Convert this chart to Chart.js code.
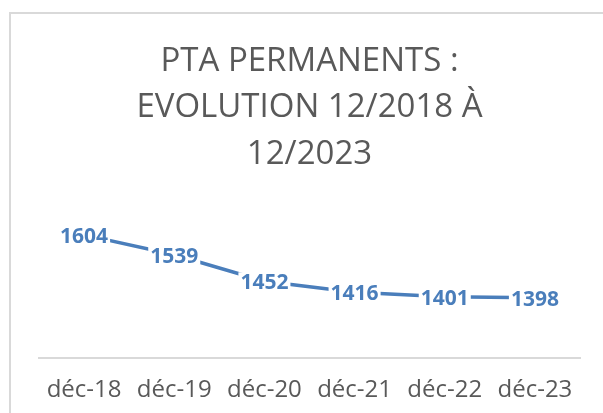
<!DOCTYPE html>
<html>
<head>
<meta charset="utf-8">
<script src="https://cdn.jsdelivr.net/npm/chart.js@4"></script>
<style>
  html, body { margin: 0; padding: 0; background: #fff; overflow: hidden; }
  #wrap { position: relative; width: 603px; height: 413px; overflow: hidden; }
  #frame { position: absolute; left: 9px; top: 12px; width: 700px; height: 500px; border: 2px solid #d9d9d9; box-sizing: border-box; }
  #myChart { position: absolute; left: 0; top: 0; }
</style>
</head>
<body>
<div id="wrap">
  <div id="frame"></div>
  <canvas id="myChart" width="603" height="433"></canvas>
</div>
<script>
  const labels = ['déc-18', 'déc-19', 'déc-20', 'déc-21', 'déc-22', 'déc-23'];
  const effectifs = [1604, 1539, 1452, 1416, 1401, 1398];
  const titleLines = ['PTA PERMANENTS :', 'EVOLUTION 12/2018 À', '12/2023'];

  const blue = '#4a7ebb';
  const grey = '#595959';

  // étiquettes de valeur posées sur la ligne, fond blanc
  const valueLabels = {
    id: 'valueLabels',
    afterDatasetsDraw(chart) {
      const ctx = chart.ctx;
      const meta = chart.getDatasetMeta(0);
      ctx.save();
      ctx.font = 'bold 21px "Open Sans"';
      ctx.textAlign = 'center';
      ctx.textBaseline = 'middle';
      meta.data.forEach(function(pt, i) {
        const txt = String(chart.data.datasets[0].data[i]);
        const w = ctx.measureText(txt).width;
        ctx.fillStyle = '#fff';
        ctx.fillRect(pt.x - w / 2 - 2, pt.y - 9, w + 4, 19);
        ctx.fillStyle = blue;
        ctx.fillText(txt, pt.x, pt.y + 2);
      });
      ctx.restore();
    }
  };

  const data = {
    labels: labels,
    datasets: [{
      label: 'PTA permanents',
      data: effectifs,
      borderColor: blue,
      backgroundColor: blue,
      borderWidth: 3.5,
      pointRadius: 0,
      tension: 0
    }]
  };

  const config = {
    type: 'line',
    data: data,
    options: {
      responsive: false,
      animation: false,
      layout: { padding: { left: 39, right: 23, top: 14, bottom: 10 } },
      plugins: {
        legend: { display: false },
        tooltip: { enabled: false },
        title: {
          display: true,
          text: titleLines,
          color: grey,
          font: { family: '"Open Sans"', size: 33, weight: 'normal', lineHeight: 1.41 },
          padding: { top: 24, bottom: 28 }
        }
      },
      scales: {
        x: {
          offset: true,
          grid: { display: false, drawTicks: false },
          border: { display: true, color: '#d9d9d9', width: 2 },
          ticks: { color: grey, padding: 18, font: { family: '"Open Sans"', size: 24 }, maxRotation: 0 }
        },
        y: {
          display: false,
          min: 1200,
          max: 1700
        }
      }
    },
    plugins: [valueLabels]
  };

  const myChart = new Chart(document.getElementById('myChart'), config);
</script>
</body>
</html>
